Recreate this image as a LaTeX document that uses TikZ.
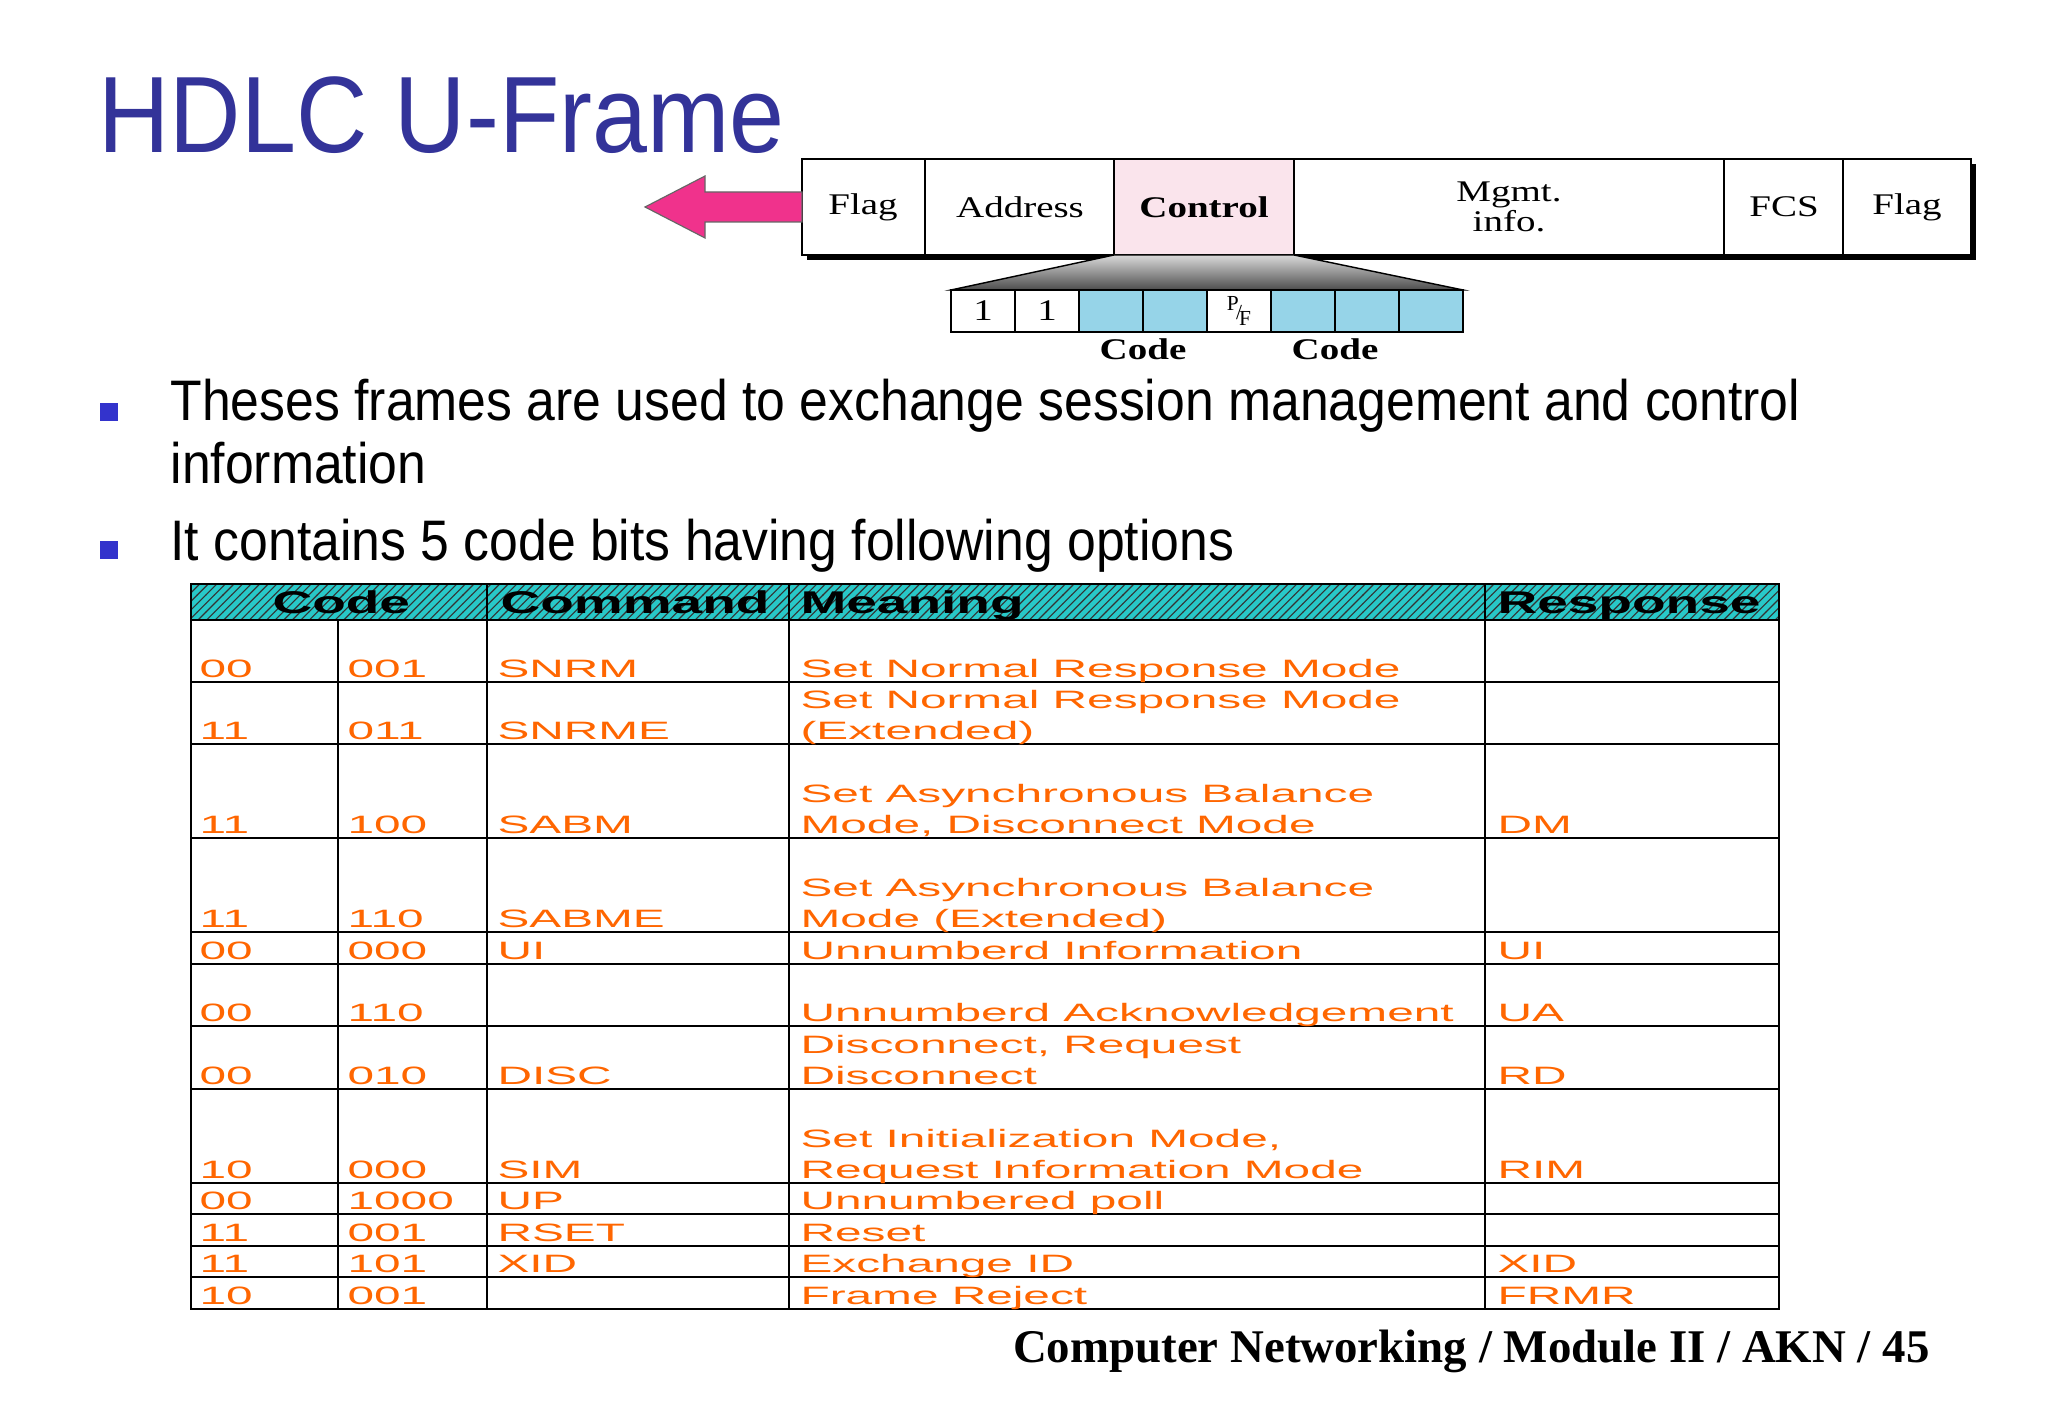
\documentclass[tikz,border=0pt]{standalone}
\usepackage{fontspec}
\setmainfont{Liberation Sans}
\newfontfamily\serf{Liberation Serif}
\usetikzlibrary{patterns}
\definecolor{ttl}{RGB}{51,51,153}
\definecolor{bul}{RGB}{51,51,204}
\definecolor{org}{RGB}{255,102,0}
\definecolor{pinkA}{RGB}{240,50,140}
\definecolor{ctrl}{RGB}{250,228,236}
\definecolor{cellb}{RGB}{150,212,232}
\definecolor{hdr}{RGB}{40,200,200}
\newcommand{\Tt}[1]{\scalebox{1.9}[1]{\fontsize{8.8}{10}\selectfont #1}}
\newcommand{\Th}[1]{\scalebox{1.75}[1]{\fontsize{11}{12}\selectfont\bfseries #1}}
\newcommand{\Fl}[1]{\scalebox{1.3}[1]{#1}}
\begin{document}
\begin{tikzpicture}[x=0.35pt,y=-0.35pt,
  fr/.style={draw=black,line width=0.6pt,fill=white},
  fl/.style={font=\serf\fontsize{10.5}{9}\selectfont,align=center},
  tt/.style={anchor=base west,inner sep=0pt,text=org},
  th/.style={anchor=base west,inner sep=0pt,text=black},
  ln/.style={line width=0.6pt}]
\useasboundingbox (0,0) rectangle (2048,1418);
\fill[white] (0,0) rectangle (2048,1418);
% title
\node[anchor=base west,inner sep=0pt,text=ttl] (title) at (98,153) {\scalebox{0.91}[1]{\fontsize{38}{40}\selectfont HDLC U-Frame}};
% frame
\fill[black] (807,164) rectangle (1976,260);
\draw[fr] (802,159) rectangle (1971,255);
\fill[ctrl] (1114,159) rectangle (1294,255);
\draw[ln] (802,159) rectangle (1971,255);
\foreach \x in {925,1114,1294,1724,1843} \draw[ln] (\x,159) -- (\x,255);
\node[fl] (f1) at (863,207) {\Fl{Flag}};
\node[fl] (f2) at (1020,207) {\Fl{Address}};
\node[fl] (f3) at (1204,207) {\Fl{\bfseries Control}};
\node[fl] (f4) at (1509,207) {\Fl{Mgmt.}\\\Fl{info.}};
\node[fl] (f5) at (1784,207) {\Fl{FCS}};
\node[fl] (f6) at (1907,207) {\Fl{Flag}};
% arrow
\fill[pinkA,draw=black!60,line width=0.4pt] (802,192) -- (705,192) -- (705,176) -- (645,207) -- (705,238) -- (705,222) -- (802,222) -- cycle;
% trapezoid
\shade[top color=black!15,bottom color=black!70,draw=black,line width=0.5pt] (1114,255) -- (1294,255) -- (1463,290) -- (951,290) -- cycle;
% subcells
\foreach \i in {0,...,7} {
  \pgfmathsetmacro\xa{951+64*\i}
  \pgfmathsetmacro\xb{951+64*(\i+1)}
  \ifnum\i=0 \def\cc{white}\else\ifnum\i=1 \def\cc{white}\else\ifnum\i=4 \def\cc{white}\else\def\cc{cellb}\fi\fi\fi
  \draw[fill=\cc,line width=0.6pt] (\xa,290) rectangle (\xb,332);
}
\node[fl] (b1) at (983,311) {\Fl{1}};
\node[fl] (b2) at (1047,311) {\Fl{1}};
\node[fl,inner sep=0pt,font=\serf\fontsize{7.5}{8}\selectfont] (pf) at (1239,311) {\raisebox{3pt}{P}\hspace{-1pt}/\hspace{-1pt}\raisebox{-2pt}{F}};
\node[fl,font=\serf\bfseries\fontsize{10.5}{10}\selectfont] (c1) at (1143,349) {\Fl{Code}};
\node[fl,font=\serf\bfseries\fontsize{10.5}{10}\selectfont] (c2) at (1335,349) {\Fl{Code}};
% bullets
\fill[bul] (100,403) rectangle (118,421);
\fill[bul] (100,541) rectangle (118,559);
\node[anchor=base west,inner sep=0pt] (t1) at (170,421) {\scalebox{0.905}[1]{\fontsize{20}{24}\selectfont Theses frames are used to exchange session management and control}};
\node[anchor=base west,inner sep=0pt] (t2) at (170,484) {\scalebox{0.905}[1]{\fontsize{20}{24}\selectfont information}};
\node[anchor=base west,inner sep=0pt] (t3) at (170,560) {\scalebox{0.905}[1]{\fontsize{20}{24}\selectfont It contains 5 code bits having following options}};
% table header
\fill[hdr] (191,584) rectangle (1779,620);
\fill[pattern=north east lines,pattern color=black!80] (191,584) rectangle (1779,620);
\draw[ln] (191,584) rectangle (1779,1309);
\foreach \x in {487,789,1485} \draw[ln] (\x,584) -- (\x,1309);
\draw[ln] (338,620) -- (338,1309);
\foreach \y in {620,682,744,838,932,964,1026,1089,1183,1214,1246,1277} \draw[ln] (191,\y) -- (1779,\y);
\node[th] (h1) at (272,613) {\Th{Code}};
\node[th] (h2) at (500,613) {\Th{Command}};
\node[th] (h3) at (800,613) {\Th{Meaning}};
\node[th] (h4) at (1497,613) {\Th{Response}};
\def\row#1#2#3#4#5#6#7{%
  \node[tt] at (199,#1) {\Tt{#2}};
  \node[tt] at (347,#1) {\Tt{#3}};
  \node[tt] at (497,#1) {\Tt{#4}};
  \node[tt] at (800,#1) {\Tt{#5}};
  \node[tt] at (800,#1-31) {\Tt{#6}};
  \node[tt] at (1497,#1) {\Tt{#7}};}
\row{677}{00}{001}{SNRM}{Set Normal Response Mode}{}{}
\row{739}{11}{011}{SNRME}{(Extended)}{Set Normal Response Mode}{}
\row{833}{11}{100}{SABM}{Mode, Disconnect Mode}{Set Asynchronous Balance}{DM}
\row{927}{11}{110}{SABME}{Mode (Extended)}{Set Asynchronous Balance}{}
\row{959}{00}{000}{UI}{Unnumberd Information}{}{UI}
\row{1021}{00}{110}{}{Unnumberd Acknowledgement}{}{UA}
\row{1084}{00}{010}{DISC}{Disconnect}{Disconnect, Request}{RD}
\row{1178}{10}{000}{SIM}{Request Information Mode}{Set Initialization Mode,}{RIM}
\row{1209}{00}{1000}{UP}{Unnumbered poll}{}{}
\row{1241}{11}{001}{RSET}{Reset}{}{}
\row{1272}{11}{101}{XID}{Exchange ID}{}{XID}
\row{1304}{10}{001}{}{Frame Reject}{}{FRMR}
% footer
\node[anchor=base east,inner sep=0pt] (foot) at (1930,1362) {\serf\bfseries\fontsize{16.4}{17}\selectfont Computer Networking / Module II / AKN / 45};
\end{tikzpicture}
\end{document}
